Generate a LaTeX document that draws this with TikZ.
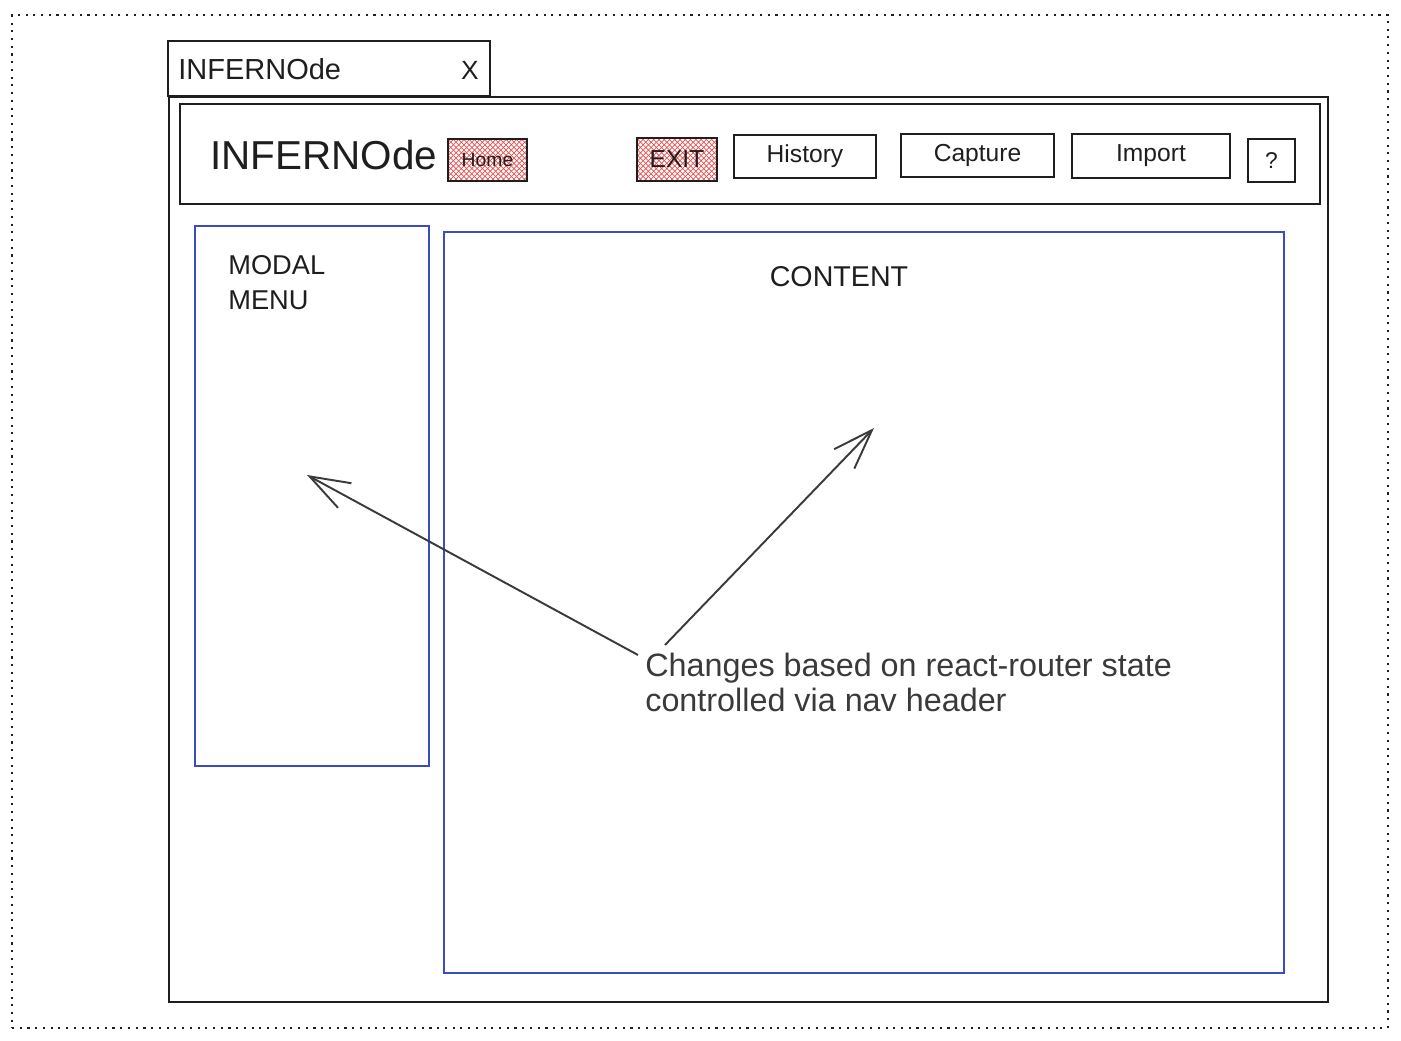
\documentclass[tikz,border=0pt]{standalone}
\usepackage{fontspec}
\setmainfont{Liberation Sans}
\usetikzlibrary{arrows.meta,patterns,fit}
\definecolor{inkblue}{HTML}{3B4CC0}
\definecolor{ink}{HTML}{1E1E1E}
\definecolor{arrowgray}{HTML}{3A3A3A}
\definecolor{hatchred}{HTML}{E8504F}
\tikzset{
  box/.style={draw=ink, line width=1.3pt, inner sep=0pt},
  bluebox/.style={draw=inkblue, line width=1.3pt, inner sep=0pt},
  hatchbox/.style={box, pattern=crosshatch, pattern color=hatchred},
  lbl/.style={text=ink, inner sep=0pt},
  btntext/.style={lbl, font=\fontsize{14}{16}\selectfont},
  pointer/.style={draw=arrowgray, line width=1.1pt, -{Straight Barb[length=0.8cm,width=0.56cm,line width=1.1pt]}},
}
\begin{document}
\begin{tikzpicture}[x=0.02cm,y=-0.02cm]
\useasboundingbox (0,0) rectangle (1401,1041);
% outer dotted frame
\node[draw=ink, line width=1.1pt, dash pattern=on 1.2pt off 3.2pt, inner sep=0pt, fit={(12,15) (1388,1028)}] (frame) {};
% window tab
\node[box, fit={(168,41) (490,96)}] (tab) {};
\node[lbl, anchor=west, font=\fontsize{16.5}{20}\selectfont] (tabtitle) at (178,69) {INFERNOde};
\node[lbl, font=\fontsize{15}{18}\selectfont] (close) at (470,70) {X};
% main window
\node[box, fit={(169,97) (1328,1002)}] (win) {};
% header
\node[box, fit={(180,104) (1320,204)}] (header) {};
\node[lbl, anchor=west, font=\fontsize{23}{26}\selectfont] (brand) at (210,155) {INFERNOde};
% buttons
\node[hatchbox, fit={(448,139) (527,181)}] (home) {};
\node[lbl, font=\fontsize{11}{13}\selectfont] (homet) at (home.center) {Home};
\node[hatchbox, fit={(637,138) (717,181)}] (exit) {};
\node[btntext] (exitt) at (exit.center) {EXIT};
\node[box, fit={(734,135) (876,178)}] (history) {};
\node[btntext] (historyt) at (history.center) {History};
\node[box, fit={(901,134) (1054,177)}] (capture) {};
\node[btntext] (capturet) at (capture.center) {Capture};
\node[box, fit={(1072,134) (1230,178)}] (import) {};
\node[btntext] (importt) at (import.center) {Import};
\node[box, fit={(1248,139) (1295,182)}] (help) {};
\node[lbl, font=\fontsize{13}{15}\selectfont] (helpt) at (help.center) {?};
% modal menu
\node[bluebox, fit={(195,226) (429,766)}] (modal) {};
\node[lbl, anchor=north west, align=left, font=\fontsize{15.5}{20}\selectfont] (modalt) at (228,255) {MODAL\\MENU};
% content
\node[bluebox, fit={(444,232) (1284,973)}] (content) {};
\node[lbl, font=\fontsize{16.3}{19}\selectfont] (contentt) at (839,277) {CONTENT};
% annotation
\node[lbl, anchor=north west, align=left, text=arrowgray, font=\fontsize{18.4}{20}\selectfont] (note) at (645,653) {Changes based on react-router state\\controlled via nav header};
\coordinate (tail1) at (638,655);
\coordinate (head1) at (307,475);
\coordinate (tail2) at (665,645);
\coordinate (head2) at (874,428);
\draw[pointer] (tail1) -- (head1);
\draw[pointer] (tail2) -- (head2);
\end{tikzpicture}
\end{document}
